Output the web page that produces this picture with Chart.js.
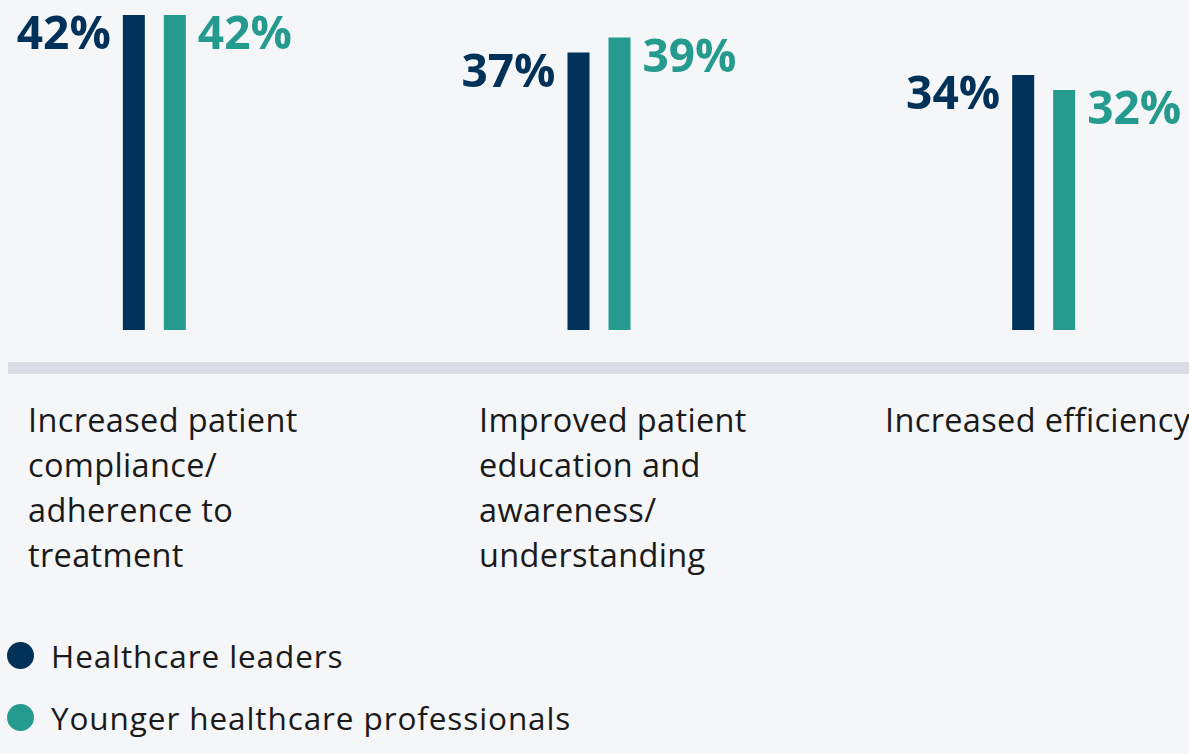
<!DOCTYPE html>
<html>
<head>
<meta charset="utf-8">
<script src="https://cdn.jsdelivr.net/npm/chart.js@4"></script>
<style>
  html, body { margin: 0; padding: 0; }
  body {
    width: 1189px; height: 754px; overflow: hidden; position: relative;
    background: #f5f6f8; font-family: "Open Sans", "Noto Sans", sans-serif; color: #1a1a1a;
  }
  #plot { position: absolute; left: -68px; top: 0; width: 1334px; height: 330px; }
  #rule { position: absolute; left: 8px; right: 0; top: 362px; height: 12px; background: #dadbe4; }
  .cat { position: absolute; top: 397px; font-size: 32.5px; line-height: 45px; letter-spacing: 0.35px; white-space: nowrap; }
  #legend { position: absolute; left: 7px; top: 624px; }
  .item { display: flex; align-items: center; height: 62px; font-size: 31.5px; letter-spacing: 0.9px; white-space: nowrap; }
  .dot { width: 27px; height: 27px; border-radius: 50%; margin-right: 17px; flex: none; }
</style>
</head>
<body>
<div id="plot"><canvas id="myChart" width="1334" height="330"></canvas></div>
<div id="rule"></div>
<div id="cats"></div>
<div id="legend"></div>
<script>
var categories = [
    ['Increased patient', 'compliance/', 'adherence to', 'treatment'],
    ['Improved patient', 'education and', 'awareness/', 'understanding'],
    ['Increased efficiency']
];
var seriesNames = ['Healthcare leaders', 'Younger healthcare professionals'];
var leaders = [42, 37, 34];
var younger = [42, 39, 32];
var colors = ['#003159', '#259a8f'];

// category text columns (left edges on the page)
var catLeft = [28, 479, 885];
categories.forEach(function(lines, i) {
    var d = document.createElement('div');
    d.className = 'cat';
    d.style.left = catLeft[i] + 'px';
    d.innerHTML = lines.join('<br>');
    document.getElementById('cats').appendChild(d);
});

seriesNames.forEach(function(name, i) {
    var it = document.createElement('div');
    it.className = 'item';
    it.innerHTML = '<span class="dot" style="background:' + colors[i] + '"></span>' + name;
    document.getElementById('legend').appendChild(it);
});

var valueLabels = {
    id: 'valueLabels',
    afterDatasetsDraw: function(chart) {
        var ctx = chart.ctx;
        ctx.save();
        ctx.font = 'bold 46px "Open Sans", "Noto Sans", sans-serif';
        ctx.textBaseline = 'alphabetic';
        chart.data.datasets.forEach(function(ds, di) {
            var meta = chart.getDatasetMeta(di);
            meta.data.forEach(function(bar, i) {
                ctx.fillStyle = ds.backgroundColor;
                var txt = ds.data[i] + '%';
                if (di === 0) {
                    ctx.textAlign = 'right';
                    ctx.fillText(txt, bar.x - bar.width / 2 - 12, bar.y + 34);
                } else {
                    ctx.textAlign = 'left';
                    ctx.fillText(txt, bar.x + bar.width / 2 + 12, bar.y + 34);
                }
            });
        });
        ctx.restore();
    }
};

var ctx = document.getElementById('myChart');
var config = {
    type: 'bar',
    data: {
        labels: categories.map(function(l) { return l.join(' '); }),
        datasets: [{
            label: seriesNames[0],
            data: leaders,
            backgroundColor: colors[0],
            categoryPercentage: 0.1844,
            barPercentage: 0.5366
        }, {
            label: seriesNames[1],
            data: younger,
            backgroundColor: colors[1],
            categoryPercentage: 0.1844,
            barPercentage: 0.5366
        }]
    },
    options: {
        responsive: false,
        animation: false,
        layout: { padding: 0 },
        plugins: {
            legend: { display: false },
            tooltip: { enabled: false }
        },
        scales: {
            x: { display: false, offset: true, grid: { display: false } },
            y: { display: false, min: 0, max: 44 }
        }
    },
    plugins: [valueLabels]
};
var myChart = new Chart(ctx, config);
</script>
</body>
</html>
